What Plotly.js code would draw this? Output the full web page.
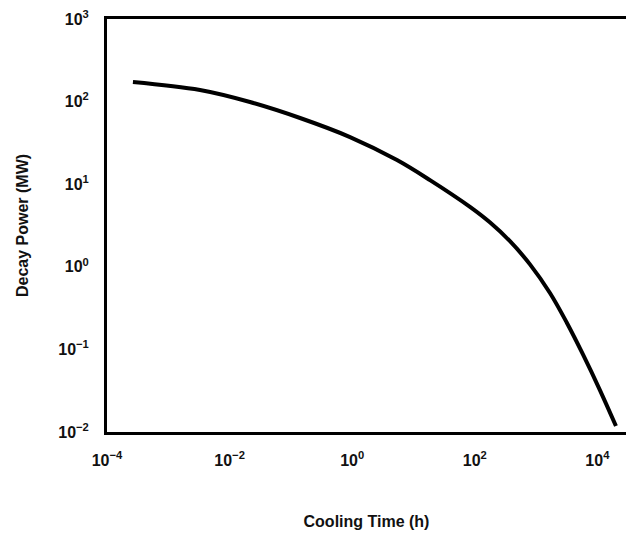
<!DOCTYPE html>
<html>
<head>
<meta charset="utf-8">
<script src="https://cdn.plot.ly/plotly-3.0.1.min.js"></script>
<style>html,body{margin:0;padding:0;background:#fff;}#chart{width:626px;height:536px;}</style>
</head>
<body>
<div id="chart"></div>
<script>
// Cooling time (h) and decay power (MW)
var coolingTime = [2.65e-4, 3.29e-3, 0.0215, 0.141, 0.921, 5.38, 18.6, 83.5, 178, 375, 795, 1686, 3190, 5820, 11000, 20100];
var decayPower  = [172.6, 138, 98.8, 63.3, 37.2, 19.6, 11.2, 5.31, 3.43, 2.04, 1.07, 0.482, 0.209, 0.087, 0.0322, 0.0118];

var xTickVals = [1e-4, 1e-2, 1, 1e2, 1e4];
var xTickText = ['10<sup>\u22124</sup>', '10<sup>\u22122</sup>', '10<sup>0</sup>', '10<sup>2</sup>', '10<sup>4</sup>'];
var yTickVals = [1e-2, 1e-1, 1, 1e1, 1e2, 1e3];
var yTickText = ['10<sup>\u22122</sup>', '10<sup>\u22121</sup>', '10<sup>0</sup>', '10<sup>1</sup>', '10<sup>2</sup>', '10<sup>3</sup>'];

var fam = 'Liberation Sans, Arial, sans-serif';

var trace = {
  x: coolingTime, y: decayPower, type: 'scatter', mode: 'lines',
  line: {color: '#000', width: 4, shape: 'spline', smoothing: 1},
  hoverinfo: 'skip'
};

var layout = {
  width: 626, height: 536,
  margin: {l: 107, r: 0, t: 19, b: 104},
  paper_bgcolor: '#fff', plot_bgcolor: '#fff',
  showlegend: false,
  font: {family: fam, size: 14, color: '#111'},
  xaxis: {
    type: 'log', range: [-4, 4.467],
    tickmode: 'array', tickvals: xTickVals, ticktext: xTickText,
    showgrid: false, zeroline: false, ticks: '',
    showline: true, linecolor: '#000', linewidth: 3, mirror: true,
    ticklabelstandoff: 12,
    tickfont: {family: fam, size: 16, weight: 'bold', color: '#111'},
    title: {text: 'Cooling Time (h)', standoff: 48,
            font: {family: fam, size: 16, weight: 'bold', color: '#111'}}
  },
  yaxis: {
    type: 'log', range: [-2, 3],
    tickmode: 'array', tickvals: yTickVals, ticktext: yTickText,
    showgrid: false, zeroline: false, ticks: '',
    showline: true, linecolor: '#000', linewidth: 3,
    ticklabelstandoff: 12,
    tickfont: {family: fam, size: 16, weight: 'bold', color: '#111'},
    title: {text: 'Decay Power (MW)', standoff: 26,
            font: {family: fam, size: 16, weight: 'bold', color: '#111'}}
  }
};

Plotly.newPlot('chart', [trace], layout, {staticPlot: true, displayModeBar: false});
</script>
</body>
</html>
